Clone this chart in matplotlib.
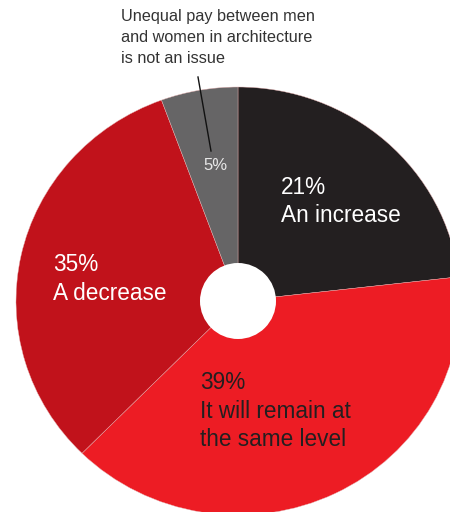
import matplotlib
matplotlib.use("Agg")
import matplotlib.pyplot as plt
from matplotlib.patches import Ellipse

plt.rcParams['font.family'] = ['Liberation Sans', 'DejaVu Sans']

# Data (clockwise from 12 o'clock); shares
categories = ['An increase', 'It will remain at the same level', 'A decrease',
              'Unequal pay between men and women in architecture is not an issue']
pct_labels = ['21%', '39%', '35%', '5%']
shares = [23.2, 39.2, 32.0, 5.6]
colors = ['#231f20', '#ed1c24', '#c1121b', '#666566']

W, H = 450, 512
CX, CY = 238, 301        # pie centre in pixels (from top-left)
RX, RY = 222, 214        # horizontal / vertical radius in pixels

fig = plt.figure(figsize=(W / 100, H / 100), dpi=100)
ax = fig.add_axes([0, 0, 1, 1])

ax.pie(shares, colors=colors, startangle=90, counterclock=False, radius=1,
       wedgeprops=dict(edgecolor='#e6b0b0', linewidth=0.3))

xmin, xmax = -CX / RX, (W - CX) / RX
ymax, ymin = CY / RY, -(H - CY) / RY
ax.set_aspect('auto')
ax.set_xlim(xmin, xmax)
ax.set_ylim(ymin, ymax)
ax.axis('off')


def px(x, y):
    return xmin + x / W * (xmax - xmin), ymax - y / H * (ymax - ymin)


# centre hole
ax.add_patch(Ellipse((0, 0), 2 * 38 / RX, 2 * 38 / RY, facecolor='white',
                     edgecolor='none', zorder=3))


def block(x, y0, lines, color, size, step):
    for i, line in enumerate(lines):
        ax.text(*px(x, y0 + i * step), line, color=color, fontsize=size,
                ha='left', va='baseline', zorder=4)


block(281, 194, [pct_labels[0], 'An increase'], 'white', 16.3, 28)
block(53, 271, [pct_labels[2], 'A decrease'], 'white', 16.3, 29)
block(200, 389, [pct_labels[1], 'It will remain at', 'the same level'],
      '#231f20', 16.3, 28.7)
block(203, 170, [pct_labels[3]], '#e8e8e8', 12, 0)
block(121, 21, ['Unequal pay between men', 'and women in architecture',
                'is not an issue'], '#333333', 11.7, 21)

ax.plot(*zip(px(198, 77), px(211, 151)), color='#111111', linewidth=1,
        zorder=4)

fig.savefig('out.png', dpi=100)
